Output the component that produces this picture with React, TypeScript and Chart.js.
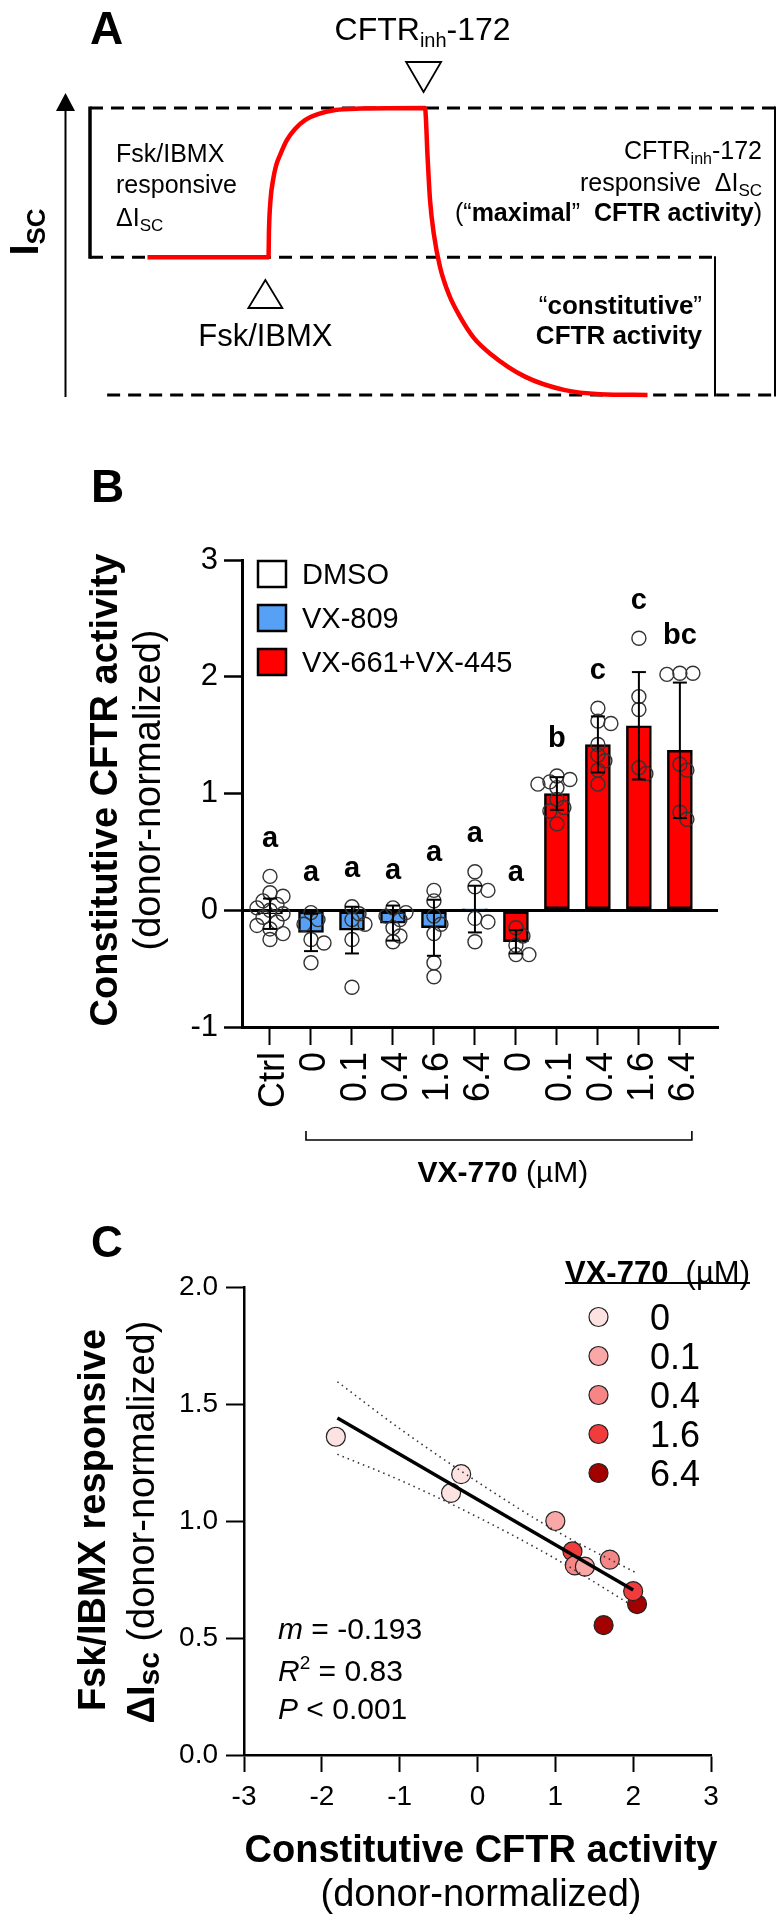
import React, { useEffect, useRef } from 'react';
import { Chart, registerables } from 'chart.js';

Chart.register(...registerables);

const FONT = '"Liberation Sans", Arial, Helvetica, sans-serif';
const PAGE_W = 777;

// ---------------- Panel A: schematic Isc trace ----------------
const schematicTime = [8.39, 26.06, 26.13, 26.35, 26.72, 27.15, 27.74, 28.76, 29.93, 31.39, 33.28, 35.77, 39.42, 48.9, 49.3, 49.64, 50.2, 51.09, 52.4, 54.01, 56.0, 58.39, 63.5, 69.34, 74.45, 81.39];
const schematicIsc = [0.48, 0.48, 0.575, 0.679, 0.749, 0.798, 0.836, 0.889, 0.927, 0.958, 0.979, 0.993, 0.998, 1.0, 0.82, 0.679, 0.56, 0.447, 0.35, 0.273, 0.2, 0.145, 0.064, 0.017, 0.003, 0];
const fskAddTime = 25.6;
const inhAddTime = 48.7;
const levelMax = 1;
const levelBase = 0.48;
const levelMin = 0;

// ---------------- Panel B: constitutive CFTR activity ----------------
const bCategories = ['Ctrl', '0', '0.1', '0.4', '1.6', '6.4', '0', '0.1', '0.4', '1.6', '6.4'];
const bTreatment = [0, 1, 1, 1, 1, 1, 2, 2, 2, 2, 2];
const treatmentNames = ['DMSO', 'VX-809', 'VX-661+VX-445'];
const treatmentColors = ['#ffffff', '#56a0f5', '#ff0000'];
const bMeans = [-0.03, -0.19, -0.17, -0.11, -0.15, 0.01, -0.27, 1.0, 1.42, 1.58, 1.37];
const bSD = [0.13, 0.16, 0.2, 0.15, 0.24, 0.2, 0.1, 0.14, 0.24, 0.46, 0.58];
const bLetters = ['a', 'a', 'a', 'a', 'a', 'a', 'a', 'b', 'c', 'c', 'bc'];
const ptsCtrl = [0.29, 0.15, 0.12, 0.08, 0.05, 0.02, 0.0, -0.03, -0.06, -0.1, -0.13, -0.16, -0.2, -0.25];
const pts809_0 = [-0.02, -0.08, -0.12, -0.25, -0.28, -0.45];
const pts809_01 = [0.03, -0.03, -0.08, -0.12, -0.25, -0.66];
const pts809_04 = [0.02, -0.02, -0.05, -0.08, -0.15, -0.22, -0.27];
const pts809_16 = [0.17, 0.08, -0.05, -0.12, -0.2, -0.45, -0.57];
const pts809_64 = [0.33, 0.2, 0.17, -0.07, -0.1, -0.27];
const pts661_0 = [-0.15, -0.22, -0.3, -0.38, -0.38];
const pts661_01 = [1.15, 1.12, 1.1, 1.08, 1.05, 0.95, 0.88, 0.85, 0.74];
const pts661_04 = [1.73, 1.62, 1.6, 1.42, 1.33, 1.28, 1.2, 1.08];
const pts661_16 = [2.33, 1.83, 1.72, 1.22, 1.17];
const pts661_64 = [2.03, 2.03, 2.02, 1.25, 1.2, 0.84, 0.78];
const bPoints = [ptsCtrl, pts809_0, pts809_01, pts809_04, pts809_16, pts809_64, pts661_0, pts661_01, pts661_04, pts661_16, pts661_64];
const bYTicks = [-1, 0, 1, 2, 3];

// ---------------- Panel C: correlation ----------------
const cDoses = ['0', '0.1', '0.4', '1.6', '6.4'];
const cColors = ['#fde2e2', '#f9a7a7', '#f68686', '#f03c3c', '#a30000'];
const cX_0 = [-1.82, -0.34, -0.21];
const cY_0 = [1.36, 1.12, 1.2];
const cX_01 = [1.0, 1.38];
const cY_01 = [1.0, 0.805];
const cX_04 = [1.25, 1.7];
const cY_04 = [0.81, 0.835];
const cX_16 = [1.22, 2.0];
const cY_16 = [0.87, 0.7];
const cX_64 = [2.05, 1.62];
const cY_64 = [0.645, 0.555];
const cGroupsX = [cX_0, cX_01, cX_04, cX_16, cX_64];
const cGroupsY = [cY_0, cY_01, cY_04, cY_16, cY_64];
const regX = [-1.8, 2.0];
const regY = [1.44, 0.705];
const bandX = [-1.8, -1.0, 0, 1.0, 2.03];
const bandUpper = [1.595, 1.395, 1.167, 0.959, 0.78];
const bandLower = [1.285, 1.175, 1.017, 0.839, 0.63];

// ---------------- helpers ----------------
type Seg = { t: string; b?: boolean; it?: boolean; s: number; dy?: number };
const fontOf = (g: Seg) => `${g.it ? 'italic ' : ''}${g.b ? 'bold ' : ''}${g.s}px ${FONT}`;

function drawRich(ctx: CanvasRenderingContext2D, segs: Seg[], x: number, y: number, align: 'left' | 'center' | 'right', rot = 0): number {
  ctx.save();
  ctx.translate(x, y);
  if (rot) ctx.rotate(rot);
  ctx.textAlign = 'left';
  ctx.textBaseline = 'alphabetic';
  ctx.fillStyle = '#000';
  const main = Math.max(...segs.map((g) => g.s));
  const base = main * 0.36;
  const ws = segs.map((g) => {
    ctx.font = fontOf(g);
    return ctx.measureText(g.t).width;
  });
  const total = ws.reduce((a, b) => a + b, 0);
  let cx = align === 'left' ? 0 : align === 'center' ? -total / 2 : -total;
  segs.forEach((g, k) => {
    ctx.font = fontOf(g);
    ctx.fillText(g.t, cx, base + (g.dy || 0));
    cx += ws[k];
  });
  ctx.restore();
  return total;
}

function line(ctx: CanvasRenderingContext2D, x1: number, y1: number, x2: number, y2: number, w: number, dash: number[] = []) {
  ctx.save();
  ctx.strokeStyle = '#000';
  ctx.lineWidth = w;
  ctx.setLineDash(dash);
  ctx.beginPath();
  ctx.moveTo(x1, y1);
  ctx.lineTo(x2, y2);
  ctx.stroke();
  ctx.restore();
}

function triangle(ctx: CanvasRenderingContext2D, apexX: number, apexY: number, baseY: number, half: number) {
  ctx.save();
  ctx.beginPath();
  ctx.moveTo(apexX, apexY);
  ctx.lineTo(apexX - half, baseY);
  ctx.lineTo(apexX + half, baseY);
  ctx.closePath();
  ctx.fillStyle = '#fff';
  ctx.fill();
  ctx.strokeStyle = '#000';
  ctx.lineWidth = 1.8;
  ctx.stroke();
  ctx.restore();
}

// simple beeswarm jitter (in px, returned in category units)
function swarmOffsets(vals: number[], pxPerX: number, pxPerY: number, minDist: number): number[] {
  const order = vals.map((_, i) => i).sort((a, b) => vals[b] - vals[a]);
  const placed: { x: number; y: number }[] = [];
  const out = new Array(vals.length).fill(0);
  const cands = [0, 7, -7, 13, -13, 19, -19];
  for (const i of order) {
    const y = vals[i] * pxPerY;
    let chosen = 0;
    for (const c of cands) {
      if (placed.every((p) => Math.hypot(p.x - c, p.y - y) >= minDist)) {
        chosen = c;
        break;
      }
    }
    placed.push({ x: chosen, y });
    out[i] = chosen / pxPerX;
  }
  return out;
}

// ---------------- Panel A plugin ----------------
const panelAPlugin = {
  id: 'panelA',
  beforeDatasetsDraw(chart: any) {
    const ctx: CanvasRenderingContext2D = chart.ctx;
    const xs = chart.scales.x;
    const ys = chart.scales.y;
    const X = (t: number) => xs.getPixelForValue(t);
    const Y = (v: number) => ys.getPixelForValue(v);
    const dash = [13, 8];
    line(ctx, X(0), Y(levelMax), X(100), Y(levelMax), 3, dash);
    line(ctx, X(0), Y(levelBase), X(91.24), Y(levelBase), 3, dash);
    line(ctx, X(2.5), Y(levelMin), X(100), Y(levelMin), 3, dash);
    line(ctx, X(0), Y(levelMax) - 1.5, X(0), Y(levelBase) + 1.5, 3.5);
    line(ctx, X(100), Y(levelMax) - 1.5, X(100), Y(levelMin) + 1.5, 2);
    line(ctx, X(91.24), Y(levelBase) - 1, X(91.24), Y(levelMin) + 1.5, 2);
    // Isc axis arrow
    line(ctx, 65.5, 397, 65.5, 108, 2);
    ctx.save();
    ctx.beginPath();
    ctx.moveTo(65.5, 93);
    ctx.lineTo(56, 111);
    ctx.lineTo(75, 111);
    ctx.closePath();
    ctx.fillStyle = '#000';
    ctx.fill();
    ctx.restore();
  },
  afterDatasetsDraw(chart: any) {
    const ctx: CanvasRenderingContext2D = chart.ctx;
    const xs = chart.scales.x;
    const X = (t: number) => xs.getPixelForValue(t);
    triangle(ctx, X(inhAddTime), 92, 62, 17.5);
    triangle(ctx, X(fskAddTime), 280, 308, 17);
    drawRich(ctx, [{ t: 'A', b: true, s: 46 }], 90, 27, 'left');
    drawRich(ctx, [{ t: 'CFTR', s: 32 }, { t: 'inh', s: 20, dy: 7 }, { t: '-172', s: 32 }], X(inhAddTime) - 1, 28, 'center');
    drawRich(ctx, [{ t: 'Fsk/IBMX', s: 31 }], X(fskAddTime), 335, 'center');
    drawRich(ctx, [{ t: 'I', b: true, s: 40 }, { t: 'SC', b: true, s: 26, dy: 7 }], 24, 232, 'center', -Math.PI / 2);
    // left block
    drawRich(ctx, [{ t: 'Fsk/IBMX', s: 25 }], 116, 153, 'left');
    drawRich(ctx, [{ t: 'responsive', s: 25 }], 116, 184, 'left');
    drawRich(ctx, [{ t: '\u0394I', s: 25 }, { t: 'SC', s: 17, dy: 5 }], 116, 217, 'left');
    // right block
    drawRich(ctx, [{ t: 'CFTR', s: 25 }, { t: 'inh', s: 16, dy: 5 }, { t: '-172', s: 25 }], 762, 150, 'right');
    drawRich(ctx, [{ t: 'responsive  \u0394I', s: 25 }, { t: 'SC', s: 17, dy: 5 }], 762, 182, 'right');
    drawRich(ctx, [{ t: '(\u201C', s: 25 }, { t: 'maximal', b: true, s: 25 }, { t: '\u201D  ', s: 25 }, { t: 'CFTR activity', b: true, s: 25 }, { t: ')', s: 25 }], 762, 212, 'right');
    drawRich(ctx, [{ t: '\u201C', s: 26 }, { t: 'constitutive', b: true, s: 26 }, { t: '\u201D', s: 26 }], 702, 305, 'right');
    drawRich(ctx, [{ t: 'CFTR activity', b: true, s: 26 }], 702, 335, 'right');
  },
};

// ---------------- Panel B plugin ----------------
const panelBPlugin = {
  id: 'panelB',
  afterDatasetsDraw(chart: any) {
    const ctx: CanvasRenderingContext2D = chart.ctx;
    const xs = chart.scales.x;
    const ys = chart.scales.y;
    // error bars
    bMeans.forEach((m, i) => {
      const x = xs.getPixelForValue(i);
      const yTop = ys.getPixelForValue(m + bSD[i]);
      const yBot = ys.getPixelForValue(m - bSD[i]);
      line(ctx, x, yTop, x, yBot, 2);
      line(ctx, x - 7, yTop, x + 7, yTop, 2);
      line(ctx, x - 7, yBot, x + 7, yBot, 2);
    });
    // significance letters
    bLetters.forEach((l, i) => {
      const top = Math.max(Math.max(...bPoints[i]), 0) + 0.34;
      drawRich(ctx, [{ t: l, b: true, s: 29 }], xs.getPixelForValue(i), ys.getPixelForValue(top), 'center');
    });
  },
  afterDraw(chart: any) {
    const ctx: CanvasRenderingContext2D = chart.ctx;
    const xs = chart.scales.x;
    const area = chart.chartArea;
    drawRich(ctx, [{ t: 'B', b: true, s: 46 }], 91, 75, 'left');
    // y title
    drawRich(ctx, [{ t: 'Constitutive CFTR activity', b: true, s: 38 }], 103, 380, 'center', -Math.PI / 2);
    drawRich(ctx, [{ t: '(donor-normalized)', s: 38 }], 146, 380, 'center', -Math.PI / 2);
    // legend
    treatmentNames.forEach((name, k) => {
      const top = area.top + 1 + k * 44;
      ctx.save();
      ctx.fillStyle = treatmentColors[k];
      ctx.fillRect(258, top, 28, 26);
      ctx.strokeStyle = '#000';
      ctx.lineWidth = 2.5;
      ctx.strokeRect(258, top, 28, 26);
      ctx.restore();
      drawRich(ctx, [{ t: name, s: 29 }], 302, top + 13, 'left');
    });
    // x tick labels (rotated)
    bCategories.forEach((c, i) => {
      drawRich(ctx, [{ t: c, s: 36 }], xs.getPixelForValue(i) + 1, area.bottom + 25, 'right', -Math.PI / 2);
    });
    // bracket
    const bx1 = xs.getPixelForValue(1) - 5;
    const bx2 = xs.getPixelForValue(10) + 12;
    ctx.save();
    ctx.strokeStyle = '#000';
    ctx.lineWidth = 1.6;
    ctx.beginPath();
    ctx.moveTo(bx1, 721);
    ctx.lineTo(bx1, 730);
    ctx.lineTo(bx2, 730);
    ctx.lineTo(bx2, 721);
    ctx.stroke();
    ctx.restore();
    drawRich(ctx, [{ t: 'VX-770', b: true, s: 30 }, { t: ' (\u00B5M)', s: 30 }], (bx1 + bx2) / 2 + 4, 761, 'center');
  },
};

// ---------------- Panel C plugin ----------------
const panelCPlugin = {
  id: 'panelC',
  afterDraw(chart: any) {
    const ctx: CanvasRenderingContext2D = chart.ctx;
    drawRich(ctx, [{ t: 'C', b: true, s: 44 }], 91, 41, 'left');
    drawRich(ctx, [{ t: 'Fsk/IBMX responsive', b: true, s: 38 }], 91, 320, 'center', -Math.PI / 2);
    drawRich(ctx, [{ t: '\u0394I', b: true, s: 38 }, { t: 'sc', b: true, s: 30, dy: 5 }, { t: ' (donor-normalized)', s: 38 }], 140, 322, 'center', -Math.PI / 2);
    drawRich(ctx, [{ t: 'Constitutive CFTR activity', b: true, s: 38 }], 481, 648, 'center');
    drawRich(ctx, [{ t: '(donor-normalized)', s: 38 }], 481, 692, 'center');
    // stats
    drawRich(ctx, [{ t: 'm', it: true, s: 30 }, { t: ' = -0.193', s: 30 }], 278, 428, 'left');
    drawRich(ctx, [{ t: 'R', it: true, s: 30 }, { t: '2', s: 19, dy: -12 }, { t: ' = 0.83', s: 30 }], 278, 470, 'left');
    drawRich(ctx, [{ t: 'P', it: true, s: 30 }, { t: ' < 0.001', s: 30 }], 278, 508, 'left');
    // legend
    const w = drawRich(ctx, [{ t: 'VX-770', b: true, s: 31 }, { t: '  (\u00B5M)', s: 31 }], 565, 72, 'left');
    line(ctx, 565, 83, 565 + w, 83, 1.8);
    cDoses.forEach((d, k) => {
      const cy = 117 + k * 39;
      ctx.save();
      ctx.beginPath();
      ctx.arc(598.5, cy, 9.5, 0, Math.PI * 2);
      ctx.fillStyle = cColors[k];
      ctx.fill();
      ctx.strokeStyle = '#222';
      ctx.lineWidth = 1.2;
      ctx.stroke();
      ctx.restore();
      drawRich(ctx, [{ t: d, s: 36 }], 650, cy, 'left');
    });
  },
};

// ---------------- configs ----------------
function configA(): any {
  return {
    type: 'line',
    data: {
      datasets: [
        {
          data: schematicTime.map((t, i) => ({ x: t, y: schematicIsc[i] })),
          borderColor: '#ff0000',
          borderWidth: 4.5,
          pointRadius: 0,
          cubicInterpolationMode: 'monotone',
          clip: false,
        },
      ],
    },
    options: {
      responsive: false,
      animation: false,
      events: [],
      layout: { padding: { top: 108, bottom: 15, left: 90, right: 2 } },
      plugins: { legend: { display: false }, tooltip: { enabled: false } },
      scales: {
        x: { type: 'linear', min: 0, max: 100, display: false },
        y: { type: 'linear', min: 0, max: 1, display: false },
      },
    },
    plugins: [panelAPlugin],
  };
}

function configB(): any {
  const pointData: { x: number; y: number }[] = [];
  bPoints.forEach((vals, i) => {
    const offs = swarmOffsets(vals, 41, 116.75, 9);
    vals.forEach((v, k) => pointData.push({ x: i + offs[k], y: v }));
  });
  return {
    type: 'bar',
    data: {
      datasets: [
        {
          type: 'scatter',
          data: pointData,
          pointRadius: 7,
          pointBackgroundColor: 'rgba(0,0,0,0)',
          pointBorderColor: '#333',
          pointBorderWidth: 1.4,
          order: 0,
        },
        {
          type: 'bar',
          data: bMeans.map((m, i) => ({ x: i, y: m })),
          backgroundColor: bTreatment.map((t) => treatmentColors[t]),
          borderColor: '#000',
          borderWidth: 2.5,
          borderSkipped: false,
          barThickness: 25,
          order: 1,
        },
      ],
    },
    options: {
      responsive: false,
      animation: false,
      events: [],
      layout: { padding: { top: 150, right: 59, bottom: 0, left: 0 } },
      plugins: { legend: { display: false }, tooltip: { enabled: false } },
      scales: {
        x: {
          type: 'linear',
          min: -0.683,
          max: 10.93,
          offset: false,
          afterBuildTicks: (s: any) => {
            s.ticks = bCategories.map((_, i) => ({ value: i }));
          },
          afterFit: (s: any) => {
            s.height = 173;
          },
          ticks: { display: false },
          grid: { drawOnChartArea: false, drawTicks: true, tickLength: 18, tickColor: '#000', tickWidth: 2, offset: false },
          border: { display: true, color: '#000', width: 3 },
        },
        y: {
          type: 'linear',
          min: -1,
          max: 3,
          z: 1,
          afterBuildTicks: (s: any) => {
            s.ticks = bYTicks.map((v) => ({ value: v }));
          },
          afterFit: (s: any) => {
            s.width = 242;
          },
          ticks: { color: '#000', font: { family: FONT, size: 31 }, padding: 6 },
          grid: {
            drawOnChartArea: true,
            color: (c: any) => (c.tick && c.tick.value === 0 ? '#000' : 'rgba(0,0,0,0)'),
            lineWidth: (c: any) => (c.tick && c.tick.value === 0 ? 3 : 1),
            tickColor: '#000',
            tickLength: 18,
            tickWidth: 2.5,
          },
          border: { color: '#000', width: 3 },
        },
      },
    },
    plugins: [panelBPlugin],
  };
}

function configC(): any {
  const groupSets = cGroupsX.map((xsArr, g) => ({
    type: 'scatter',
    data: xsArr.map((x, i) => ({ x, y: cGroupsY[g][i] })),
    pointRadius: 9.5,
    pointBackgroundColor: cColors[g],
    pointBorderColor: '#222',
    pointBorderWidth: 1.2,
    order: 2,
  }));
  const bandStyle = {
    type: 'line',
    borderColor: '#333',
    borderWidth: 1.6,
    borderDash: [1.5, 4],
    pointRadius: 0,
    cubicInterpolationMode: 'monotone',
    order: 1,
  };
  return {
    type: 'scatter',
    data: {
      datasets: [
        ...groupSets,
        { ...bandStyle, data: bandX.map((x, i) => ({ x, y: bandUpper[i] })) },
        { ...bandStyle, data: bandX.map((x, i) => ({ x, y: bandLower[i] })) },
        {
          type: 'line',
          data: regX.map((x, i) => ({ x, y: regY[i] })),
          borderColor: '#000',
          borderWidth: 3.5,
          pointRadius: 0,
          order: 0,
        },
      ],
    },
    options: {
      responsive: false,
      animation: false,
      events: [],
      layout: { padding: { top: 87, right: 66, bottom: 0, left: 0 } },
      plugins: { legend: { display: false }, tooltip: { enabled: false } },
      scales: {
        x: {
          type: 'linear',
          min: -3,
          max: 3,
          afterFit: (s: any) => {
            s.height = 165;
          },
          ticks: { stepSize: 1, color: '#000', font: { family: FONT, size: 28 }, padding: 8 },
          grid: { drawOnChartArea: false, tickLength: 17, tickColor: '#000', tickWidth: 2 },
          border: { color: '#000', width: 2.5 },
        },
        y: {
          type: 'linear',
          min: 0,
          max: 2,
          afterFit: (s: any) => {
            s.width = 244;
          },
          ticks: { stepSize: 0.5, color: '#000', font: { family: FONT, size: 28 }, padding: 8, callback: (v: any) => Number(v).toFixed(1) },
          grid: { drawOnChartArea: false, tickLength: 18, tickColor: '#000', tickWidth: 2 },
          border: { color: '#000', width: 2.5 },
        },
      },
    },
    plugins: [panelCPlugin],
  };
}

function ChartCanvas({ top, height, makeConfig }: { top: number; height: number; makeConfig: () => any }) {
  const ref = useRef<HTMLCanvasElement>(null);
  useEffect(() => {
    const chart = new Chart(ref.current as HTMLCanvasElement, makeConfig());
    return () => chart.destroy();
  }, []);
  return (
    <canvas
      ref={ref}
      width={PAGE_W}
      height={height}
      style={{ position: 'absolute', left: 0, top, width: PAGE_W, height, display: 'block' }}
    />
  );
}

export default function App() {
  return (
    <div style={{ position: 'absolute', left: 0, top: 0, width: PAGE_W, height: 1920, background: '#fff', overflow: 'hidden' }}>
      <ChartCanvas top={0} height={410} makeConfig={configA} />
      <ChartCanvas top={410} height={790} makeConfig={configB} />
      <ChartCanvas top={1200} height={720} makeConfig={configC} />
    </div>
  );
}
